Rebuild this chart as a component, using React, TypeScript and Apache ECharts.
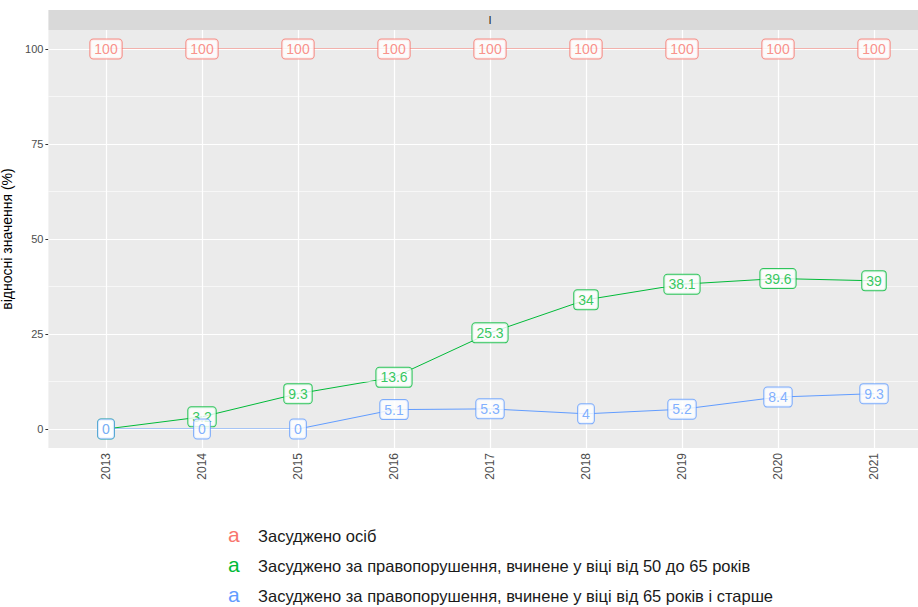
import React, { useEffect, useRef } from "react";
import * as echarts from "echarts";

const years = [2013, 2014, 2015, 2016, 2017, 2018, 2019, 2020, 2021];
const seriesNames = [
  "Засуджено осіб",
  "Засуджено за правопорушення, вчинене у віці від 50 до 65 років",
  "Засуджено за правопорушення, вчинене у віці від 65 років і старше",
];
const totalValues = [100, 100, 100, 100, 100, 100, 100, 100, 100];
const age50to65Values = [0, 3.2, 9.3, 13.6, 25.3, 34, 38.1, 39.6, 39];
const age65plusValues = [0, 0, 0, 5.1, 5.3, 4, 5.2, 8.4, 9.3];
const yTicks = [0, 25, 50, 75, 100];
const yMinor = [12.5, 37.5, 62.5, 87.5];
const stripLabel = "I";
const yTitle = "відносні значення (%)";

const colors = ["#F8766D", "#00BA38", "#619CFF"];
const font = "Arial, 'Liberation Sans', sans-serif";

export default function App() {
  const ref = useRef<HTMLDivElement>(null);
  useEffect(() => {
    if (!ref.current) return;
    const chart = echarts.init(ref.current, null, { renderer: "svg" });
    const allValues = [totalValues, age50to65Values, age65plusValues];
    const gridLeft = 48.4;
    const gridTop = 30;
    const gridBottom = 159;
    const gridRight = -13.6;
    const panelWidth = 918 - gridLeft - gridRight;

    const lineSeries = allValues.map((vals, i) => ({
      type: "line",
      name: seriesNames[i],
      data: years.map((y, j) => [y, vals[j]]),
      symbol: "none",
      lineStyle: { color: colors[i], width: 1 },
      z: 3,
      silent: true,
    }));

    const labelSeries = allValues.map((vals, i) => ({
      type: "scatter",
      name: seriesNames[i] + " labels",
      data: years.map((y, j) => [y, vals[j]]),
      symbolSize: 1,
      itemStyle: { color: colors[i] },
      z: 10 + i,
      silent: true,
      label: {
        show: true,
        position: "inside",
        formatter: (p: any) => String(p.value[1]),
        color: colors[i],
        backgroundColor: "#ffffff",
        borderColor: colors[i],
        borderWidth: 1,
        borderRadius: 3,
        padding: [3, 4, 2, 4],
        fontSize: 14,
        fontFamily: font,
      },
      labelLayout: { hideOverlap: false },
    }));

    const legendGraphics: any[] = [];
    const legendY = [537, 567, 597];
    seriesNames.forEach((n, i) => {
      legendGraphics.push({
        type: "text",
        left: 228,
        top: legendY[i] - 13,
        style: { text: "a", fill: colors[i], fontSize: 21, fontFamily: font },
      });
      legendGraphics.push({
        type: "text",
        left: 258,
        top: legendY[i] - 10,
        style: { text: n, fill: "#1A1A1A", fontSize: 16.5, fontFamily: font },
      });
    });

    chart.setOption({
      animation: false,
      backgroundColor: "#ffffff",
      grid: {
        left: gridLeft,
        top: gridTop,
        bottom: gridBottom,
        right: gridRight,
        backgroundColor: "#EBEBEB",
        show: true,
        borderWidth: 0,
        containLabel: false,
        outerBoundsMode: "none",
      },
      xAxis: {
        type: "value",
        min: 2012.4,
        max: 2021.6,
        axisLine: { show: false },
        splitLine: { show: false },
        axisTick: { show: true, customValues: years, length: 3, lineStyle: { color: "#333333", width: 1 } },
        axisLabel: {
          customValues: years,
          rotate: 90,
          formatter: (v: number) => String(v),
          color: "#4D4D4D",
          fontSize: 12,
          fontFamily: font,
          margin: 5,
        },
      },
      yAxis: {
        type: "value",
        min: -5,
        max: 105,
        name: yTitle,
        nameLocation: "middle",
        nameRotate: 90,
        nameGap: 28,
        nameTextStyle: { color: "#000000", fontSize: 14, fontFamily: font },
        axisLine: { show: false },
        splitLine: { show: false },
        axisTick: { show: true, customValues: yTicks, length: 3, lineStyle: { color: "#333333", width: 1 } },
        axisLabel: {
          customValues: yTicks,
          formatter: (v: number) => String(v),
          color: "#4D4D4D",
          fontSize: 11,
          fontFamily: font,
          margin: 5,
        },
      },
      graphic: [
        {
          type: "rect",
          shape: { x: gridLeft, y: 10, width: panelWidth, height: 20 },
          style: { fill: "#D9D9D9" },
          z: 0,
        },
        {
          type: "text",
          x: gridLeft + panelWidth / 2,
          y: 20,
          style: { text: stripLabel, fill: "#1A1A1A", fontSize: 11, fontFamily: font, align: "center", verticalAlign: "middle" },
        },
        ...legendGraphics,
      ],
      series: [
        {
          type: "line",
          data: [],
          z: 1,
          silent: true,
          markLine: {
            silent: true,
            symbol: "none",
            animation: false,
            label: { show: false },
            data: [
              ...yMinor.map((v) => ({ yAxis: v, lineStyle: { color: "#ffffff", width: 0.6, type: "solid" } })),
              ...yTicks.map((v) => ({ yAxis: v, lineStyle: { color: "#ffffff", width: 1.2, type: "solid" } })),
              ...years.map((v) => ({ xAxis: v, lineStyle: { color: "#ffffff", width: 1.2, type: "solid" } })),
            ],
          },
        },
        ...lineSeries,
        ...labelSeries,
      ],
    });
    return () => chart.dispose();
  }, []);
  return <div ref={ref} style={{ position: "fixed", left: 0, top: 0, width: 918, height: 607 }} />;
}
